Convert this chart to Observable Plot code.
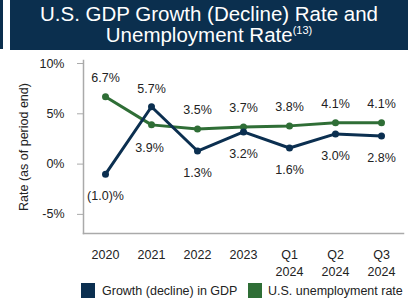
<!DOCTYPE html>
<html>
<head>
<meta charset="utf-8">
<script src="https://cdn.jsdelivr.net/npm/d3@7"></script>
<script src="https://cdn.jsdelivr.net/npm/@observablehq/plot@0.6"></script>
<style>
  html, body { margin: 0; padding: 0; background: #fff; }
  body { width: 413px; height: 306px; position: relative; overflow: hidden; font-family: "Liberation Sans", Arial, sans-serif; }
  #sliver { position: absolute; left: 0; top: 0; width: 3px; height: 49px; background: #0b2f4e; }
  #title { position: absolute; left: 10px; top: 0; width: 398px; height: 50px; background: #0b2f4e; color: #fff;
    text-align: center; font-size: 20.5px; box-sizing: border-box; padding-top: 3px; }
  #title div { height: 21px; line-height: 21px; }
  #title sup { font-size: 11px; line-height: 11px; display: inline-block; vertical-align: top; margin-top: 1px; }
  #chart { position: absolute; left: 0; top: 52px; }
  #legend { position: absolute; left: 0; top: 282px; width: 413px; height: 18px; font-size: 12.5px; color: #222; }
  .sw { position: absolute; top: 1px; width: 14px; height: 15px; }
  .lt { position: absolute; top: 2px; }
</style>
</head>
<body>
<div id="sliver"></div>
<div id="title"><div>U.S. GDP Growth (Decline) Rate and</div><div>Unemployment Rate<sup>(13)</sup></div></div>
<div id="chart"></div>
<div id="legend"></div>
<script>
const periods = ["2020", "2021", "2022", "2023", "Q1\n2024", "Q2\n2024", "Q3\n2024"];
const gdpGrowth = [-1.0, 5.7, 1.3, 3.2, 1.6, 3.0, 2.8];
const unemployment = [6.7, 3.9, 3.5, 3.7, 3.8, 4.1, 4.1];
const gdpLabels = ["(1.0)%", "5.7%", "1.3%", "3.2%", "1.6%", "3.0%", "2.8%"];
const unempLabels = ["6.7%", "3.9%", "3.5%", "3.7%", "3.8%", "4.1%", "4.1%"];
const gdpLabelAbove = [false, true, false, false, false, false, false];
const unempLabelAbove = [true, false, true, true, true, true, true];
const yTicks = [-5, 0, 5, 10];
const seriesNames = ["Growth (decline) in GDP", "U.S. unemployment rate"];
const seriesColors = ["#0b2f50", "#2f6e36"];

const gdp = periods.map((p, i) => ({period: p, value: gdpGrowth[i], label: gdpLabels[i], above: gdpLabelAbove[i]}));
const unemp = periods.map((p, i) => ({period: p, value: unemployment[i], label: unempLabels[i], above: unempLabelAbove[i]}));

const fmt = d => d + "%";

const chart = Plot.plot({
  width: 413,
  height: 228,
  marginLeft: 83,
  marginRight: 10,
  marginTop: 8,
  marginBottom: 47,
  style: {fontFamily: "Liberation Sans, Arial, sans-serif", fontSize: "12.5px", color: "#222", background: "transparent"},
  x: {type: "point", domain: periods, padding: 0.47, label: null},
  y: {domain: [-6.9, 10.3], label: null},
  marks: [
    Plot.axisY({ticks: yTicks, tickFormat: fmt, tickSize: 6, tickPadding: 13, stroke: "#aaa", fontSize: 12.5,
      label: "Rate (as of period end)", labelAnchor: "center", labelOffset: 64, labelArrow: "none"}),
    Plot.axisX({tickSize: 0, tickPadding: 14, fontSize: 12.5, lineHeight: 1.35, label: null}),
    Plot.frame({anchor: "left", stroke: "#aaa", strokeWidth: 1.5}),
    Plot.frame({anchor: "bottom", stroke: "#aaa", strokeWidth: 1.5}),
    Plot.line(unemp, {x: "period", y: "value", stroke: seriesColors[1], strokeWidth: 3}),
    Plot.dot(unemp, {x: "period", y: "value", fill: seriesColors[1], r: 3.5}),
    Plot.line(gdp, {x: "period", y: "value", stroke: seriesColors[0], strokeWidth: 3}),
    Plot.dot(gdp, {x: "period", y: "value", fill: seriesColors[0], r: 3.5}),
    Plot.text(unemp, {x: "period", y: "value", text: "label", fill: "#222", fontSize: 12.5,
      filter: d => d.above, dy: -19}),
    Plot.text(unemp, {x: "period", y: "value", text: "label", fill: "#222", fontSize: 12.5,
      filter: d => !d.above, dy: 23, dx: -2}),
    Plot.text(gdp, {x: "period", y: "value", text: "label", fill: "#222", fontSize: 12.5,
      filter: d => d.above, dy: -18}),
    Plot.text(gdp, {x: "period", y: "value", text: "label", fill: "#222", fontSize: 12.5,
      filter: d => !d.above, dy: 22})
  ]
});
document.getElementById("chart").appendChild(chart);

const legend = document.getElementById("legend");
const legendX = [[81, 102], [248, 268]];
seriesNames.forEach((name, i) => {
  const sw = document.createElement("div");
  sw.className = "sw";
  sw.style.left = legendX[i][0] + "px";
  sw.style.background = seriesColors[i];
  legend.appendChild(sw);
  const t = document.createElement("div");
  t.className = "lt";
  t.style.left = legendX[i][1] + "px";
  t.textContent = name;
  legend.appendChild(t);
});
</script>
</body>
</html>
